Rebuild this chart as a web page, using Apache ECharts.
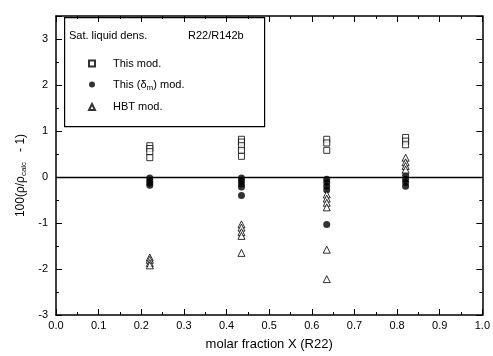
<!DOCTYPE html>
<html>
<head>
<meta charset="utf-8">
<script src="https://cdn.jsdelivr.net/npm/echarts@6/dist/echarts.min.js"></script>
<style>
  html, body { margin: 0; padding: 0; background: #fff; }
  #chart { width: 493px; height: 356px; }
</style>
</head>
<body>
<div id="chart"></div>
<script>
// molar fractions of R22 measured
var xThis = [0.22, 0.22, 0.22, 0.22,
  0.435, 0.435, 0.435, 0.435, 0.435,
  0.635, 0.635, 0.635,
  0.82, 0.82, 0.82]
var yThis = [0.68, 0.62, 0.55, 0.42,
  0.82, 0.76, 0.68, 0.58, 0.45,
  0.82, 0.74, 0.58,
  0.86, 0.78, 0.70]

var xDelta = [0.22, 0.22, 0.22, 0.22,
  0.435, 0.435, 0.435, 0.435, 0.435,
  0.635, 0.635, 0.635, 0.635, 0.635,
  0.82, 0.82, 0.82, 0.82]
var yDelta = [-0.02, -0.08, -0.13, -0.18,
  -0.02, -0.08, -0.15, -0.22, -0.40,
  -0.05, -0.12, -0.20, -0.28, -1.03,
  0.04, -0.05, -0.12, -0.20]

var xHBT = [0.22, 0.22, 0.22, 0.22,
  0.435, 0.435, 0.435, 0.435, 0.435,
  0.635, 0.635, 0.635, 0.635, 0.635, 0.635,
  0.82, 0.82, 0.82, 0.82]
var yHBT = [-1.75, -1.80, -1.87, -1.92,
  -1.03, -1.10, -1.20, -1.28, -1.65,
  -0.38, -0.47, -0.56, -0.66, -1.58, -2.22,
  0.42, 0.32, 0.24, 0.16]

var xTicks = [0, 0.1, 0.2, 0.3, 0.4, 0.5, 0.6, 0.7, 0.8, 0.9, 1.0]
var yTicks = [-3, -2, -1, 0, 1, 2, 3]

function pairs(xs, ys) {
  return xs.map(function (x, i) { return [x, ys[i]] })
}

var font = 'Liberation Sans'
var chart = echarts.init(document.getElementById('chart'))

var axisCommon = {
  axisLine: { show: true, onZero: false, lineStyle: { color: '#000', width: 1.5 } },
  axisTick: { show: true, inside: true, length: 6, lineStyle: { color: '#000' } },
  minorTick: { show: true, splitNumber: 2, length: 3, lineStyle: { color: '#000' } },
  splitLine: { show: false }
}

chart.setOption({
  animation: false,
  backgroundColor: '#fff',
  textStyle: { fontFamily: font, color: '#000' },
  grid: { left: 56, right: 7, top: 16, bottom: 40 },
  xAxis: [
    Object.assign({
      type: 'value', min: 0, max: 1, interval: 0.1, position: 'bottom',
      name: 'molar fraction X (R22)', nameLocation: 'middle', nameGap: 23,
      nameTextStyle: { fontSize: 13, color: '#000', fontFamily: font },
      axisLabel: {
        fontSize: 11, color: '#000', margin: 5,
        formatter: function (v) { return xTicks.indexOf(+v.toFixed(1)) >= 0 ? v.toFixed(1) : '' }
      }
    }, axisCommon),
    Object.assign({
      type: 'value', min: 0, max: 1, interval: 0.1, position: 'top',
      axisLabel: { show: false }
    }, axisCommon)
  ],
  yAxis: [
    Object.assign({
      type: 'value', min: -3, max: 3.5, interval: 1, position: 'left',
      name: '100(ρ/ρ{sub|calc}   - 1)      ', nameLocation: 'middle', nameGap: 28, nameRotate: 90,
      nameTextStyle: {
        fontSize: 12, color: '#000', fontFamily: font,
        rich: { sub: { fontSize: 8, padding: [6, 0, 0, 0], fontFamily: font } }
      },
      axisLabel: {
        fontSize: 11, color: '#000', margin: 8,
        formatter: function (v) { return yTicks.indexOf(v) >= 0 ? String(v) : '' }
      }
    }, axisCommon),
    Object.assign({
      type: 'value', min: -3, max: 3.5, interval: 1, position: 'right',
      axisLabel: { show: false }
    }, axisCommon)
  ],
  legend: {
    orient: 'vertical',
    left: 83,
    top: 53,
    itemWidth: 6,
    itemHeight: 6,
    itemGap: 10,
    textStyle: {
      fontSize: 11, color: '#000', fontFamily: font, padding: [0, 0, 0, 13],
      rich: { sub: { fontSize: 8, padding: [6, 0, 0, 0], fontFamily: font } }
    },
    formatter: function (name) {
      return name === 'delta' ? 'This (δ{sub|m}) mod.' : name
    },
    data: ['This mod.', 'delta', 'HBT mod.']
  },
  graphic: [
    {
      type: 'rect', left: 64, top: 17, z: 10, silent: true,
      shape: { width: 200, height: 109 },
      style: { fill: 'rgba(0,0,0,0)', stroke: '#000', lineWidth: 1.2 }
    },
    {
      type: 'text', left: 69, top: 30, z: 11, silent: true,
      style: { text: 'Sat. liquid dens.', fontSize: 11, fill: '#000', fontFamily: font }
    },
    {
      type: 'text', left: 188, top: 30, z: 11, silent: true,
      style: { text: 'R22/R142b', fontSize: 11, fill: '#000', fontFamily: font }
    }
  ],
  series: [
    {
      name: 'This mod.', type: 'scatter', symbol: 'rect', symbolSize: 6,
      itemStyle: { color: '#fff', borderColor: '#000', borderWidth: 1 },
      data: pairs(xThis, yThis),
      markLine: {
        silent: true, symbol: 'none', label: { show: false },
        lineStyle: { color: '#000', width: 1.3, type: 'solid' },
        data: [{ yAxis: 0 }]
      }
    },
    {
      name: 'delta', type: 'scatter', symbol: 'circle', symbolSize: 7,
      itemStyle: { color: '#000' },
      data: pairs(xDelta, yDelta)
    },
    {
      name: 'HBT mod.', type: 'scatter', symbol: 'triangle', symbolSize: 7,
      itemStyle: { color: '#fff', borderColor: '#000', borderWidth: 1 },
      data: pairs(xHBT, yHBT)
    }
  ]
})
</script>
</body>
</html>
